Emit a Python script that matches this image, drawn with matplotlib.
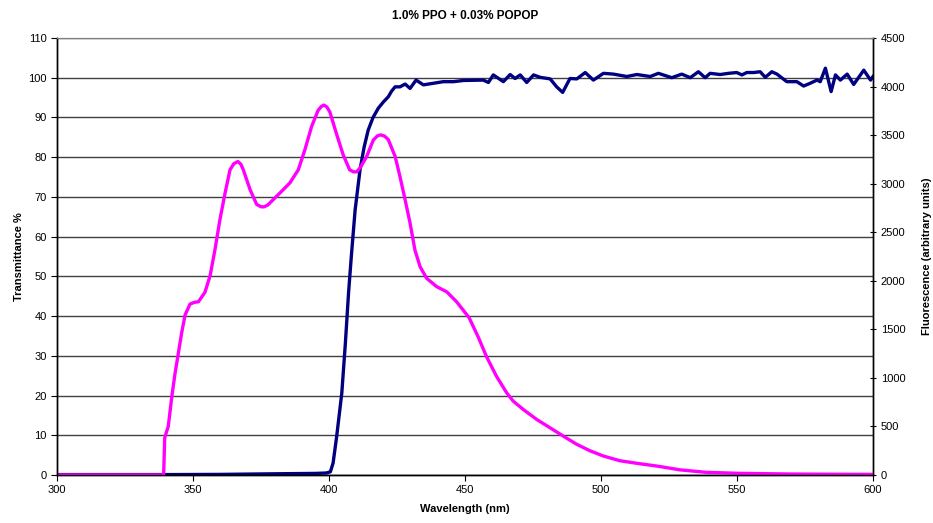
import matplotlib.pyplot as plt

plt.rcParams['font.family'] = ['Liberation Sans', 'DejaVu Sans']

# Transmittance (%) vs wavelength (nm)
trans_wl = [300, 320, 340, 360, 380, 395, 399, 400.5, 401.5, 402.8, 404.7, 406, 407.2, 408.2,
            409.6, 411.4, 412.9, 414.4, 416.2, 418.1, 420, 421.8, 423, 424.3, 426.1, 428, 429.8,
            432, 434.7, 438.4,
            442, 445.8, 449.4, 456.7, 458.6, 460.4, 464.1, 466.6, 468.4, 470.3, 472.7, 475.2,
            477.6, 481.3, 483.7, 485.9, 488.6, 491.1, 494.2, 497.2, 500.9, 504.6, 509.5, 513.2,
            518.1, 521.1, 526, 529.7, 532.8, 535.8, 538.3, 540.1, 543.8, 546.9, 549.9, 551.8,
            553.6, 556.1, 558.5, 560.4, 562.8, 564.7, 568.3, 572, 574.5, 576.9, 579.4, 580.6,
            582.5, 584.6, 586.2, 588, 590.5, 592.9, 596.6, 599.1, 600]
trans = [0.1, 0.1, 0.1, 0.15, 0.3, 0.4, 0.5, 0.8, 3, 9.6, 20.6, 33, 46, 55,
         66.7, 76.8, 82.5, 86.8, 90, 92.3, 93.9, 95.2, 96.6, 97.7, 97.7, 98.4, 97.3,
         99.4, 98.2, 98.6,
         99.0, 99.0, 99.3, 99.4, 98.8, 100.7, 99.0, 100.8, 99.8, 100.7, 98.8, 100.7,
         100.1, 99.7, 97.7, 96.3, 99.8, 99.7, 101.3, 99.4, 101.1, 100.9, 100.3, 100.8,
         100.3, 101.1, 100, 100.9, 100, 101.5, 100, 101.1, 100.8, 101.1, 101.3, 100.7,
         101.3, 101.3, 101.5, 100.1, 101.5, 100.9, 99.0, 99.0, 97.9, 98.6, 99.4, 99.0,
         102.4, 96.5, 100.7, 99.4, 100.9, 98.3, 101.9, 99.4, 100.3]

# Fluorescence (arbitrary units) vs wavelength (nm)
fluo_wl = [300, 320, 339.2, 339.6, 340.1, 340.9, 342.2, 343.4, 344.6, 345.8, 347.1, 348.9,
           350.5, 352, 354.4, 356.3, 358.1, 359.9, 361.8, 363.6, 365, 366.5, 367.6, 368.5,
           371, 373.4, 375, 376.1, 377.5,
           378.9, 382, 385.6, 388.7, 391.1, 393.6, 396, 397.2, 398.1, 399.2, 400.3, 402.7,
           405.2, 407.6, 409, 410.2, 411.6, 413.8, 416.3, 417.8, 419, 420.4, 421.8, 424.3,
           426.1, 428, 429.8, 431.6, 433.5, 435.9,
           439.6, 443.3, 446.9, 451.5, 454.8, 457.9, 461.6, 465.3, 467.7, 471.4, 476.3,
           481.2, 486.1, 491, 495.9, 500.8, 506.9, 513.5, 521, 529, 538.8, 551, 569.5, 588, 600]
fluo = [0, 0, 0, 380, 430, 500, 806, 1047, 1252, 1460, 1649, 1760,
        1778, 1784, 1882, 2054, 2324, 2630, 2905, 3142, 3205, 3228, 3200, 3142,
        2937, 2786, 2762, 2761, 2780,
        2819, 2905, 3007, 3142, 3346, 3588, 3755, 3795, 3809, 3790, 3739, 3518,
        3297, 3142, 3122, 3121, 3170, 3277, 3449, 3492, 3502, 3490, 3453, 3281,
        3072, 2831, 2594, 2315, 2144, 2025,
        1939, 1886, 1784, 1620, 1424, 1219, 1015, 847, 761, 675, 573,
        487, 401, 317, 250, 196, 147, 119, 90, 53, 27, 17, 10, 7, 6]

fig = plt.figure(figsize=(9.33, 5.23), dpi=100)
ax1 = fig.add_axes([0.0611, 0.0918, 0.8746, 0.8356])
ax2 = ax1.twinx()

ax1.plot(trans_wl, trans, color='#000080', lw=2.4, solid_joinstyle='round')
ax2.plot(fluo_wl, fluo, color='#FF00FF', lw=2.4, solid_joinstyle='round')

ax1.set_xlim(300, 600)
ax1.set_ylim(0, 110)
ax2.set_ylim(0, 4500)
ax1.set_xticks(range(300, 601, 50))
ax1.set_yticks(range(0, 111, 10))
ax2.set_yticks(range(0, 4501, 500))

ax1.yaxis.grid(True, color='#404040', lw=1.0)
ax1.set_axisbelow(True)

for ax in (ax1, ax2):
    ax.spines['top'].set_color('#808080')
    for s in ('left', 'right', 'bottom'):
        ax.spines[s].set_color('black')
        ax.spines[s].set_linewidth(1.0)

ax1.tick_params(axis='both', labelsize=8, length=4, width=0.8)
ax2.tick_params(axis='y', labelsize=8, length=4, width=0.8, direction='inout')

ax1.set_title('1.0% PPO + 0.03% POPOP', fontsize=8.5, fontweight='bold', pad=14)
ax1.set_xlabel('Wavelength (nm)', fontsize=8, fontweight='bold', labelpad=6)
ax1.set_ylabel('Transmittance %', fontsize=8, fontweight='bold', labelpad=3)
ax2.set_ylabel('Fluorescence (arbitrary units)', fontsize=8, fontweight='bold', labelpad=12)

fig.savefig('out.png', dpi=100)
